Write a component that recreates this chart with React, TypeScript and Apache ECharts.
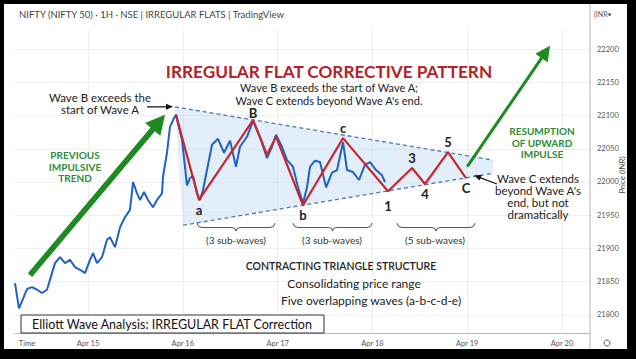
import React, { useEffect, useRef } from "react";
import * as echarts from "echarts";

// ---------- data ----------
const dayTicks = [15, 16, 17, 18, 19, 20];
const priceTicks = [21800, 21850, 21900, 21950, 22000, 22050, 22100, 22150, 22200];

// hourly-ish NIFTY price path (day of April, price)
const priceTimes = [
  14.23, 14.272, 14.357, 14.409, 14.462, 14.515, 14.567, 14.62, 14.652, 14.705,
  14.757, 14.81, 14.863, 14.916, 14.968, 15.021, 15.053, 15.095, 15.148, 15.2,
  15.232, 15.285, 15.338, 15.39, 15.443, 15.475, 15.517, 15.549, 15.591, 15.633,
  15.686, 15.728, 15.781, 15.791, 15.833, 15.865, 15.907, 15.928, 15.992, 16.023,
  16.044, 16.076, 16.108, 16.15, 16.181, 16.213, 16.255, 16.308, 16.371, 16.435,
  16.498, 16.561, 16.603, 16.677, 16.741, 16.814, 16.888, 16.941, 16.983, 17.046,
  17.099, 17.162, 17.215, 17.268, 17.31, 17.342, 17.395, 17.447, 17.511, 17.574,
  17.627, 17.69, 17.732, 17.795, 17.859, 17.922, 17.975, 18.038, 18.101, 18.133,
];
const priceValues = [
  21848, 21810, 21839, 21842, 21838, 21833, 21838, 21863, 21878, 21887,
  21878, 21883, 21872, 21868, 21863, 21883, 21893, 21878, 21887, 21913,
  21917, 21902, 21932, 21947, 21958, 22000, 21983, 21973, 21985, 21973,
  21962, 21973, 21983, 22008, 22044, 22083, 22096, 22101, 22063, 22023,
  21995, 22006, 22009, 21983, 21973, 21988, 22018, 22056, 22065, 22044,
  22062, 22023, 22053, 22068, 22092, 22068, 22036, 22053, 22071, 22053,
  22033, 22023, 21992, 21968, 21992, 22023, 22032, 22030, 21992, 22014,
  22018, 22060, 22018, 22015, 22003, 22026, 22030, 22018, 22010, 22000,
];

// Elliott wave count (red zig-zag)
const waveTimes = [15.928, 16.171, 16.741, 16.888, 16.983, 17.268, 17.69, 18.165, 18.418, 18.555, 18.797, 18.987];
const waveValues = [22101, 21973, 22093, 22041, 22068, 21965, 22066, 21986, 22021, 21997, 22045, 22006];
const waveLabels = ["", "a", "B", "", "", "b", "c", "1", "3", "4", "5", "C"];

// contracting triangle boundaries
const upperTimes = [15.918, 19.272];
const upperValues = [22113, 22033];
const lowerTimes = [16.002, 19.272];
const lowerValues = [21935, 22013];

// arrows: [fromDay, fromPrice, toDay, toPrice]
const previousTrendArrow = [14.388, 21860, 15.812, 22101];
const resumptionArrow = [19.0, 22023, 19.873, 22205];
const waveBPointer = [15.622, 22113, 15.897, 22113];
const waveCPointer = [19.314, 21997, 19.072, 22010];

// ---------- helpers ----------
function arrowSeries(arrow: number[], shaft: number, headLen: number, headHalf: number, color: string, z: number) {
  return {
    type: "custom",
    coordinateSystem: "cartesian2d",
    clip: false,
    z,
    silent: true,
    encode: { x: [0, 2], y: [1, 3] },
    data: [arrow],
    renderItem: (_p: any, api: any) => {
      const p0 = api.coord([api.value(0), api.value(1)]);
      const p1 = api.coord([api.value(2), api.value(3)]);
      const dx = p1[0] - p0[0];
      const dy = p1[1] - p0[1];
      const L = Math.hypot(dx, dy) || 1;
      const ux = dx / L, uy = dy / L;
      const nx = -uy, ny = ux;
      const bx = p1[0] - ux * headLen, by = p1[1] - uy * headLen;
      const pts = [
        [p0[0] + nx * shaft, p0[1] + ny * shaft],
        [bx + nx * shaft, by + ny * shaft],
        [bx + nx * headHalf, by + ny * headHalf],
        [p1[0], p1[1]],
        [bx - nx * headHalf, by - ny * headHalf],
        [bx - nx * shaft, by - ny * shaft],
        [p0[0] - nx * shaft, p0[1] - ny * shaft],
      ];
      return { type: "polygon", shape: { points: pts }, style: { fill: color } };
    },
  };
}

const FONT = "Lato, 'Open Sans', sans-serif";

function txt(text: string, x: number, y: number, size: number, fill: string, weight: any = "normal", align = "center", extra: any = {}, lineHeight?: number) {
  return {
    type: "text",
    x,
    y,
    silent: true,
    z: 100,
    style: {
      text,
      fill,
      fontSize: size,
      fontWeight: weight,
      fontFamily: FONT,
      align,
      verticalAlign: "middle",
      lineHeight: lineHeight || Math.round(size * 1.2),
    },
    ...extra,
  };
}

function brace(x0: number, x1: number, y: number) {
  const m = (x0 + x1) / 2;
  return {
    type: "polyline",
    silent: true,
    z: 100,
    shape: {
      points: [
        [x0, y],
        [x0 + 1.5, y + 3.5],
        [x0 + 5, y + 4.5],
        [m - 4, y + 4.5],
        [m - 1, y + 5.5],
        [m, y + 8],
        [m + 1, y + 5.5],
        [m + 4, y + 4.5],
        [x1 - 5, y + 4.5],
        [x1 - 1.5, y + 3.5],
        [x1, y],
      ],
    },
    style: { stroke: "#555", lineWidth: 1, fill: null },
  };
}

export default function App() {
  const ref = useRef<HTMLDivElement>(null);
  useEffect(() => {
    if (!ref.current) return;
    const chart = echarts.init(ref.current, null, { renderer: "svg" });

    const waveData = waveTimes.map((t, i) => {
      const lbl = waveLabels[i];
      const isPeak = ["B", "c", "3", "5"].includes(lbl);
      return {
        value: [t, waveValues[i]],
        label: {
          show: !!lbl,
          formatter: lbl,
          position: isPeak ? "top" : "bottom",
          distance: lbl === "1" ? 8 : lbl === "B" ? 0 : 3,
          fontSize: 13,
          fontWeight: "bold",
          color: "#222",
          fontFamily: FONT,
        },
      };
    });

    const option: any = {
      animation: false,
      backgroundColor: "#fff",
      grid: { left: 11, right: 37, top: 26, bottom: 16 },
      xAxis: {
        type: "value",
        min: 14.23,
        max: 20.295,
        axisLine: { show: true, lineStyle: { color: "#b5b5b5", width: 1 } },
        axisTick: { show: false, customValues: dayTicks },
        axisLabel: {
          customValues: dayTicks,
          formatter: (v: number) => "Apr " + v,
          fontSize: 7.5,
          color: "#555",
          margin: 6,
          fontFamily: FONT,
        },
        splitLine: { show: true, lineStyle: { color: "#efefef", width: 1 } },
      },
      yAxis: {
        type: "value",
        position: "right",
        min: 21772.9,
        max: 22228.6,
        axisLine: { show: false },
        axisTick: { show: false, customValues: priceTicks },
        axisLabel: {
          customValues: priceTicks,
          formatter: (v: number) => String(v),
          fontSize: 7.5,
          color: "#555",
          margin: 7,
          fontFamily: FONT,
        },
        splitLine: { show: true, lineStyle: { color: "#efefef", width: 1 } },
      },
      series: [
        {
          type: "custom",
          coordinateSystem: "cartesian2d",
          silent: true,
          z: 1,
          data: [[upperTimes[0], upperValues[0]]],
          encode: { x: 0, y: 1 },
          renderItem: (_p: any, api: any) => {
            const pts = [
              api.coord([upperTimes[0], upperValues[0]]),
              api.coord([upperTimes[1], upperValues[1]]),
              api.coord([lowerTimes[1], lowerValues[1]]),
              api.coord([lowerTimes[0], lowerValues[0]]),
            ];
            return { type: "polygon", shape: { points: pts }, style: { fill: "rgba(190,218,242,0.45)" } };
          },
        },
        {
          type: "line",
          z: 2,
          silent: true,
          symbol: "none",
          data: upperTimes.map((t, i) => [t, upperValues[i]]),
          lineStyle: { color: "#4a78b8", width: 1.3, type: [4, 3] },
        },
        {
          type: "line",
          z: 2,
          silent: true,
          symbol: "none",
          data: lowerTimes.map((t, i) => [t, lowerValues[i]]),
          lineStyle: { color: "#4a78b8", width: 1.3, type: [4, 3] },
        },
        {
          type: "line",
          z: 3,
          silent: true,
          symbol: "none",
          data: priceTimes.map((t, i) => [t, priceValues[i]]),
          lineStyle: { color: "#2160c4", width: 2 },
        },
        {
          type: "line",
          z: 4,
          silent: true,
          symbol: "circle",
          symbolSize: 1,
          showSymbol: true,
          itemStyle: { color: "#c5282f" },
          data: waveData,
          lineStyle: { color: "#c5282f", width: 2.2 },
        },
        arrowSeries(previousTrendArrow, 2.8, 19, 10, "#1e8a22", 6),
        arrowSeries(resumptionArrow, 1.5, 15, 7.5, "#1e8a22", 6),
        arrowSeries(waveBPointer, 0.6, 7, 3, "#111", 6),
        arrowSeries(waveCPointer, 0.6, 7, 3, "#111", 6),
      ],
      graphic: [
        { type: "line", silent: true, z: 50, shape: { x1: 586, y1: 0, x2: 586, y2: 345 }, style: { stroke: "#b5b5b5", lineWidth: 1 } },
        txt("NIFTY (NIFTY 50) · 1H · NSE | IRREGULAR FLATS | TradingView", 15, 10, 9.5, "#444", "normal", "left"),
        txt("(INR•", 590, 10, 7, "#555", "normal", "left"),
        txt("IRREGULAR FLAT CORRECTIVE PATTERN", 325, 67, 17.2, "#b52127", "bold"),
        txt("Wave B exceeds the start of Wave A;\nWave C extends beyond Wave A's end.", 325, 89.5, 11, "#222", "normal", "center", {}, 13),
        txt("Wave B exceeds the\nstart of Wave A", 96, 99, 11.5, "#222", "normal", "center", {}, 12),
        txt("PREVIOUS\nIMPULSIVE\nTREND", 71, 162.5, 10, "#2e8b36", "bold", "center", {}, 11.5),
        txt("RESUMPTION\nOF UPWARD\nIMPULSE", 538, 138.5, 10, "#2e8b36", "bold", "center", {}, 11.5),
        txt("Wave C extends\nbeyond Wave A's\nend, but not\ndramatically", 534, 192, 11.5, "#222", "normal", "center", {}, 12),
        brace(193, 271, 219),
        brace(289, 368, 219),
        brace(393, 471, 219),
        txt("(3 sub-waves)", 232, 236, 10, "#333"),
        txt("(3 sub-waves)", 328, 236, 10, "#333"),
        txt("(5 sub-waves)", 431, 236, 10, "#333"),
        txt("CONTRACTING TRIANGLE STRUCTURE", 337, 262, 10.5, "#222", 600),
        txt("Consolidating price range", 350, 279, 12, "#222"),
        txt("Five overlapping waves (a-b-c-d-e)", 367, 296, 12, "#222"),
        {
          type: "rect",
          silent: true,
          z: 90,
          shape: { x: 17, y: 311, width: 303, height: 18 },
          style: { fill: "#fff", stroke: "#333", lineWidth: 1 },
        },
        txt("Elliott Wave Analysis: IRREGULAR FLAT Correction", 168, 320.5, 12.5, "#111"),
        txt("Time", 23, 339, 7.5, "#555"),
        txt("Price (INR)", 618, 171, 8, "#444", "normal", "center", { rotation: Math.PI / 2 }),
        { type: "circle", silent: true, z: 100, shape: { cx: 603, cy: 339, r: 3 }, style: { fill: "none", stroke: "#555", lineWidth: 1 } },
      ],
    };
    chart.setOption(option);
    return () => chart.dispose();
  }, []);

  return (
    <div style={{ position: "fixed", left: 0, top: 0, width: 636, height: 359, background: "#000" }}>
      <div ref={ref} style={{ position: "absolute", left: 4, top: 4, width: 623, height: 345, background: "#fff" }} />
    </div>
  );
}
